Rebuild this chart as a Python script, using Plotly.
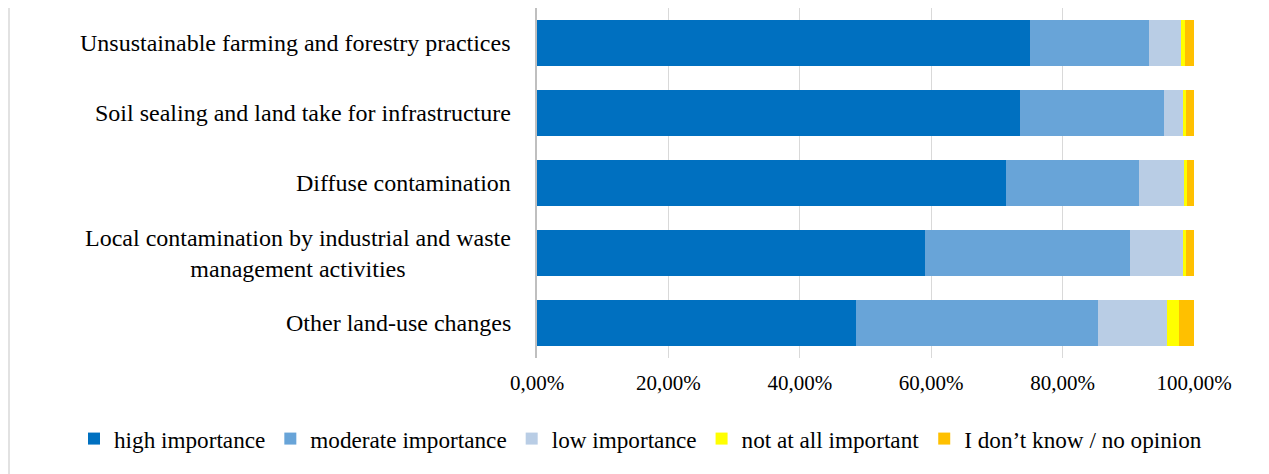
import plotly.graph_objects as go

categories = [
    "Unsustainable farming and forestry practices",
    "Soil sealing and land take for infrastructure",
    "Diffuse contamination",
    "Local contamination by industrial and waste<br>management activities",
    "Other land-use changes",
]
series_names = [
    "high importance",
    "moderate importance",
    "low importance",
    "not at all important",
    "I don\u2019t know / no opinion",
]
high = [75.0, 73.5, 71.4, 59.1, 48.6]
moderate = [18.2, 21.9, 20.3, 31.2, 36.8]
low = [4.8, 2.9, 6.8, 8.0, 10.5]
not_at_all = [0.6, 0.5, 0.5, 0.5, 1.8]
dont_know = [1.4, 1.2, 1.0, 1.2, 2.3]
tick_vals = [0, 20, 40, 60, 80, 100]
tick_text = ["0,00%", "20,00%", "40,00%", "60,00%", "80,00%", "100,00%"]

colors = ["#0070C0", "#68A4D8", "#B9CDE5", "#FFFF00", "#FFC000"]
FONT = "Liberation Serif"

# page body has an 8px margin, so the figure is 8px smaller than the window
W, H = 1261, 466
L, R, T, B = 529, 75, 0, 116
PW, PH = W - L - R, H - T - B

fig = go.Figure()
for name, vals, col in zip(series_names, [high, moderate, low, not_at_all, dont_know], colors):
    fig.add_trace(go.Bar(
        y=categories, x=vals, name=name, orientation="h",
        marker=dict(color=col, line=dict(width=0)),
    ))

# category labels as annotations so the wrapped line is centred
for cat in categories:
    fig.add_annotation(
        x=0, xref="x", y=cat, yref="y", text=cat, showarrow=False,
        xanchor="right", align="center", xshift=-24,
        font=dict(family=FONT, size=24, color="black"),
    )

fig.update_layout(
    width=W, height=H,
    barmode="stack", bargap=0.33,
    plot_bgcolor="white", paper_bgcolor="white",
    margin=dict(l=L, r=R, t=T, b=B, autoexpand=False),
    font=dict(family=FONT, size=21, color="black"),
    showlegend=True,
    legend=dict(orientation="h", x=(66 - L) / PW, xanchor="left",
                y=-(431 - PH) / PH, yanchor="middle",
                font=dict(family=FONT, size=23.2), traceorder="normal",
                itemwidth=30),
    xaxis=dict(range=[0, 100], tickvals=tick_vals, ticktext=tick_text,
               showgrid=True, gridcolor="#D9D9D9", gridwidth=1,
               zeroline=False, showline=False, ticks="", ticklabelstandoff=10),
    yaxis=dict(autorange="reversed", showticklabels=False, showgrid=False,
               showline=True, linecolor="#BFBFBF", linewidth=1.5, ticks=""),
)

# left edge of the chart area border
fig.add_shape(type="line", xref="paper", yref="paper",
              x0=-(L - 1) / PW, x1=-(L - 1) / PW, y0=-B / PH, y1=1,
              line=dict(color="#D9D9D9", width=1.5))

fig.write_html("out.html")
